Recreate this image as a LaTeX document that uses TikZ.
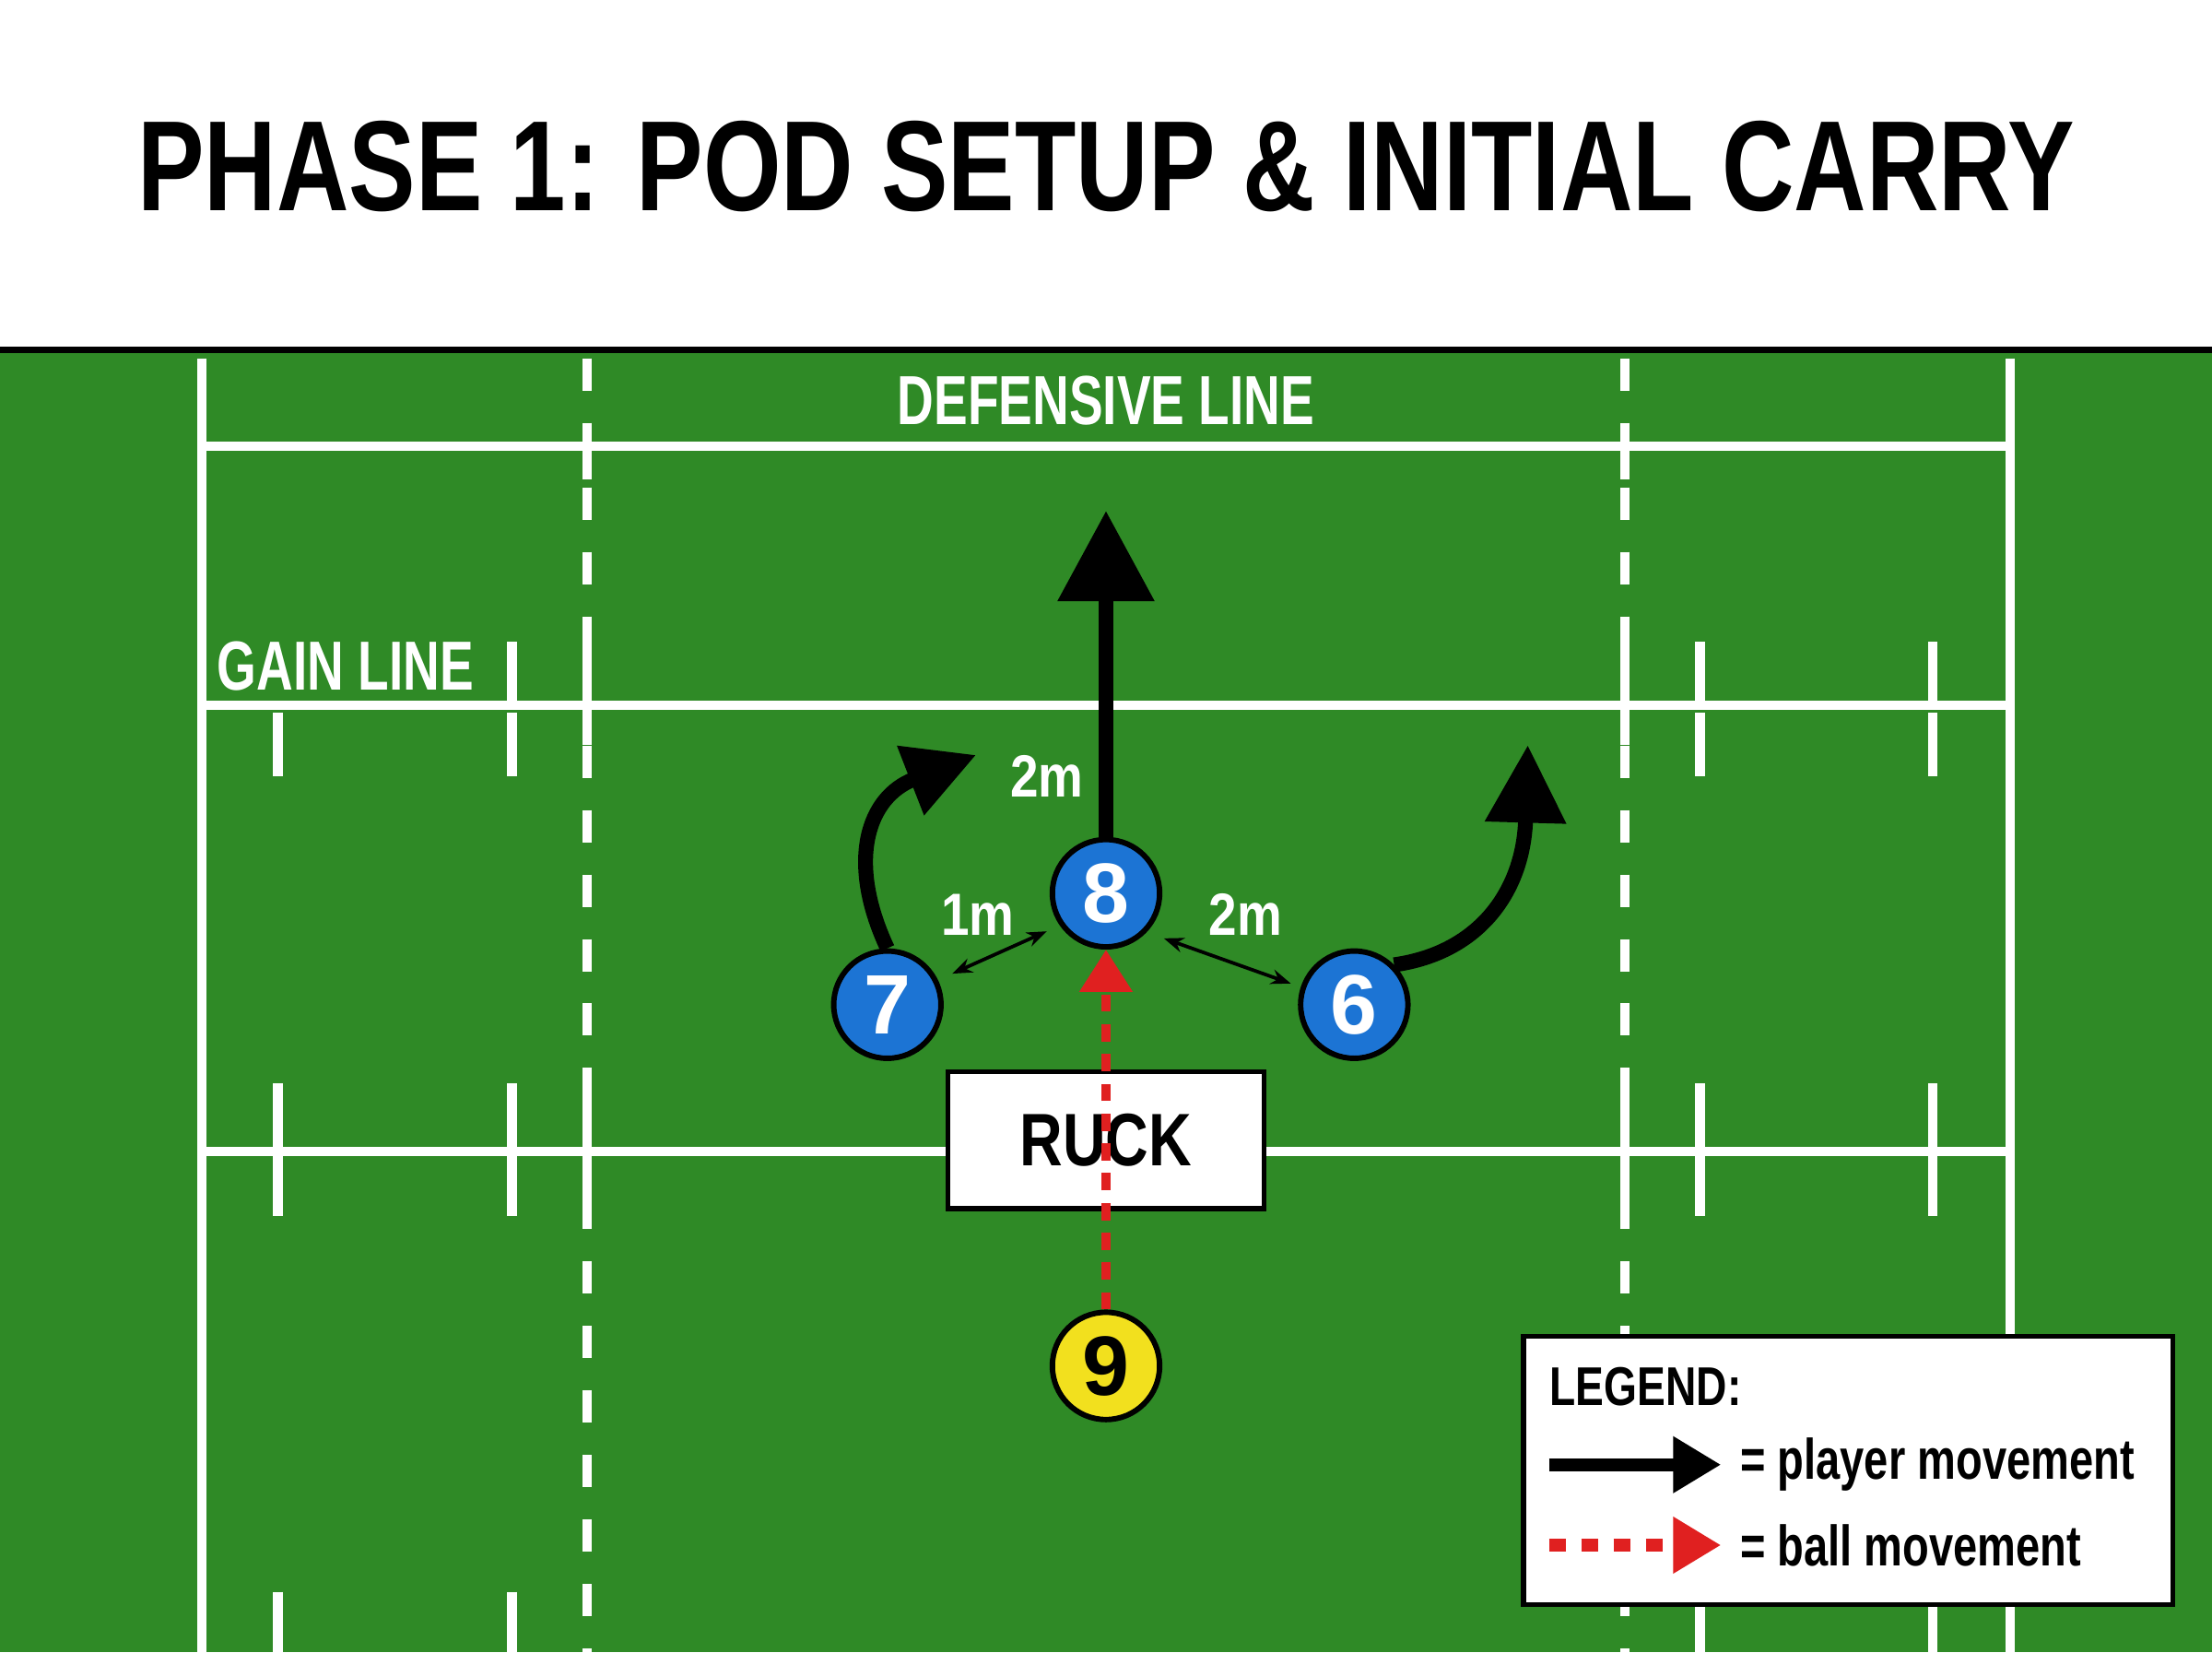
\documentclass[tikz,border=0pt]{standalone}
\usepackage{fontspec}
\setmainfont{Liberation Sans}
\usetikzlibrary{arrows.meta}
\definecolor{grass}{HTML}{2F8A26}
\definecolor{pblue}{HTML}{1C74D4}
\definecolor{pyel}{HTML}{F2E01E}
\definecolor{bred}{HTML}{E02020}
\newcommand{\cond}[2]{\scalebox{#1}[1]{\bfseries #2}}
\begin{document}
\begin{tikzpicture}[x=0.01cm,y=-0.01cm,
  fl/.style={white,line width=1.9pt},
  tk/.style={white,line width=1.9pt},
  dsh/.style={white,line width=1.9pt,dash pattern=on 6.5pt off 6.5pt},
  player/.style={circle,draw=black,line width=1.1pt,minimum size=0.76cm,inner sep=0pt,text=white,font=\fontsize{17}{17}\selectfont\bfseries},
  lbl/.style={text=white,font=\fontsize{12}{12}\selectfont\bfseries},
  move/.style={black,line width=3pt,-{Triangle[length=0.64cm,width=0.66cm]}},
  small/.style={black,line width=0.7pt,{Stealth[length=4pt]}-{Stealth[length=4pt]}},
  ball/.style={bred,line width=2pt,dash pattern=on 3.5pt off 2.5pt,-{Triangle[length=0.3cm,width=0.36cm]}}]
\useasboundingbox (0,0) rectangle (1568,1171);
\fill[white] (0,0) rectangle (1568,248);
\fill[grass] (0,248) rectangle (1568,1171);
\draw[black,line width=1.3pt] (0,248) -- (1568,248);
\node (title) at (784,118) {\resizebox{13.72cm}{!}{\cond{0.78}{PHASE 1: POD SETUP \& INITIAL CARRY}}};
% field
\draw[fl] (143,254) -- (143,1171);
\draw[fl] (1425,254) -- (1425,1171);
\draw[fl] (143,316) -- (1425,316);
\draw[fl] (143,500) -- (1425,500);
\draw[fl] (143,816) -- (672,816);
\draw[fl] (896,816) -- (1425,816);
\foreach \x in {416,1152}{\draw[dsh] (\x,254) -- (\x,1171);
  \draw[tk] (\x,316) -- (\x,340); \draw[tk] (\x,455) -- (\x,528); \draw[tk] (\x,768) -- (\x,862);}
\foreach \x in {197,363,1205,1370}{
  \draw[tk] (\x,505) -- (\x,550); \draw[tk] (\x,768) -- (\x,862); \draw[tk] (\x,1128) -- (\x,1171);}
\foreach \x in {363,1205,1370}{\draw[tk] (\x,455) -- (\x,500);}
\node[lbl,font=\fontsize{14}{14}\selectfont] (def) at (784,284) {\cond{0.73}{DEFENSIVE LINE}};
\node[lbl,font=\fontsize{14}{14}\selectfont] (gain) at (245,472) {\cond{0.73}{GAIN LINE}};
% ruck
\node[draw=black,fill=white,line width=1pt,minimum width=2.24cm,minimum height=0.97cm,font=\fontsize{15}{15}\selectfont] (ruck) at (784,808) {\cond{0.8}{RUCK}};
% players
\node[player,fill=pblue] (p8) at (784,633) {8};
\node[player,fill=pblue] (p7) at (629,712) {7};
\node[player,fill=pblue] (p6) at (960,712) {6};
\node[player,fill=pyel,text=black] (p9) at (784,968) {9};
\coordinate (t8) at (784,362);
\coordinate (t7) at (692,535);
\coordinate (t6) at (1083,528);
\draw[ball] (p9.north) -- (p8.south);
\draw[move] (p8.north) -- (t8);
\draw[move,-{Triangle[length=0.5cm,width=0.5cm]}] (p7.north) .. controls (600,610) and (615,565) .. (t7);
\draw[move,-{Triangle[length=0.55cm,width=0.55cm]}] (p6.north east) .. controls (1050,675) and (1080,630) .. (t6);
\draw[small] (675,690) -- (742,660);
\draw[small] (825,665) -- (915,697);
\node[lbl] (l1) at (742,550) {\cond{0.85}{2m}};
\node[lbl] (l2) at (693,648) {\cond{0.85}{1m}};
\node[lbl] (l3) at (883,648) {\cond{0.85}{2m}};
% legend
\node[draw=black,fill=white,line width=1pt,minimum width=4.6cm,minimum height=1.9cm] (leg) at (1310,1042) {};
\node[anchor=west,inner sep=0pt,font=\fontsize{11}{11}\selectfont] (lt) at (1098,983) {\cond{0.78}{LEGEND:}};
\coordinate (a1) at (1098,1038); \coordinate (a2) at (1220,1038);
\coordinate (b1) at (1098,1095); \coordinate (b2) at (1220,1095);
\draw[black,line width=2.6pt,-{Triangle[length=0.34cm,width=0.38cm]}] (a1) -- (a2);
\draw[bred,line width=2.6pt,dash pattern=on 3.5pt off 3pt,-{Triangle[length=0.34cm,width=0.38cm]}] (b1) -- (b2);
\node[anchor=west,inner sep=0pt,font=\fontsize{11.5}{11.5}\selectfont] (lp) at (1233,1038) {\cond{0.76}{= player movement}};
\node[anchor=west,inner sep=0pt,font=\fontsize{11.5}{11.5}\selectfont] (lb) at (1233,1095) {\cond{0.76}{= ball movement}};
\end{tikzpicture}
\end{document}
